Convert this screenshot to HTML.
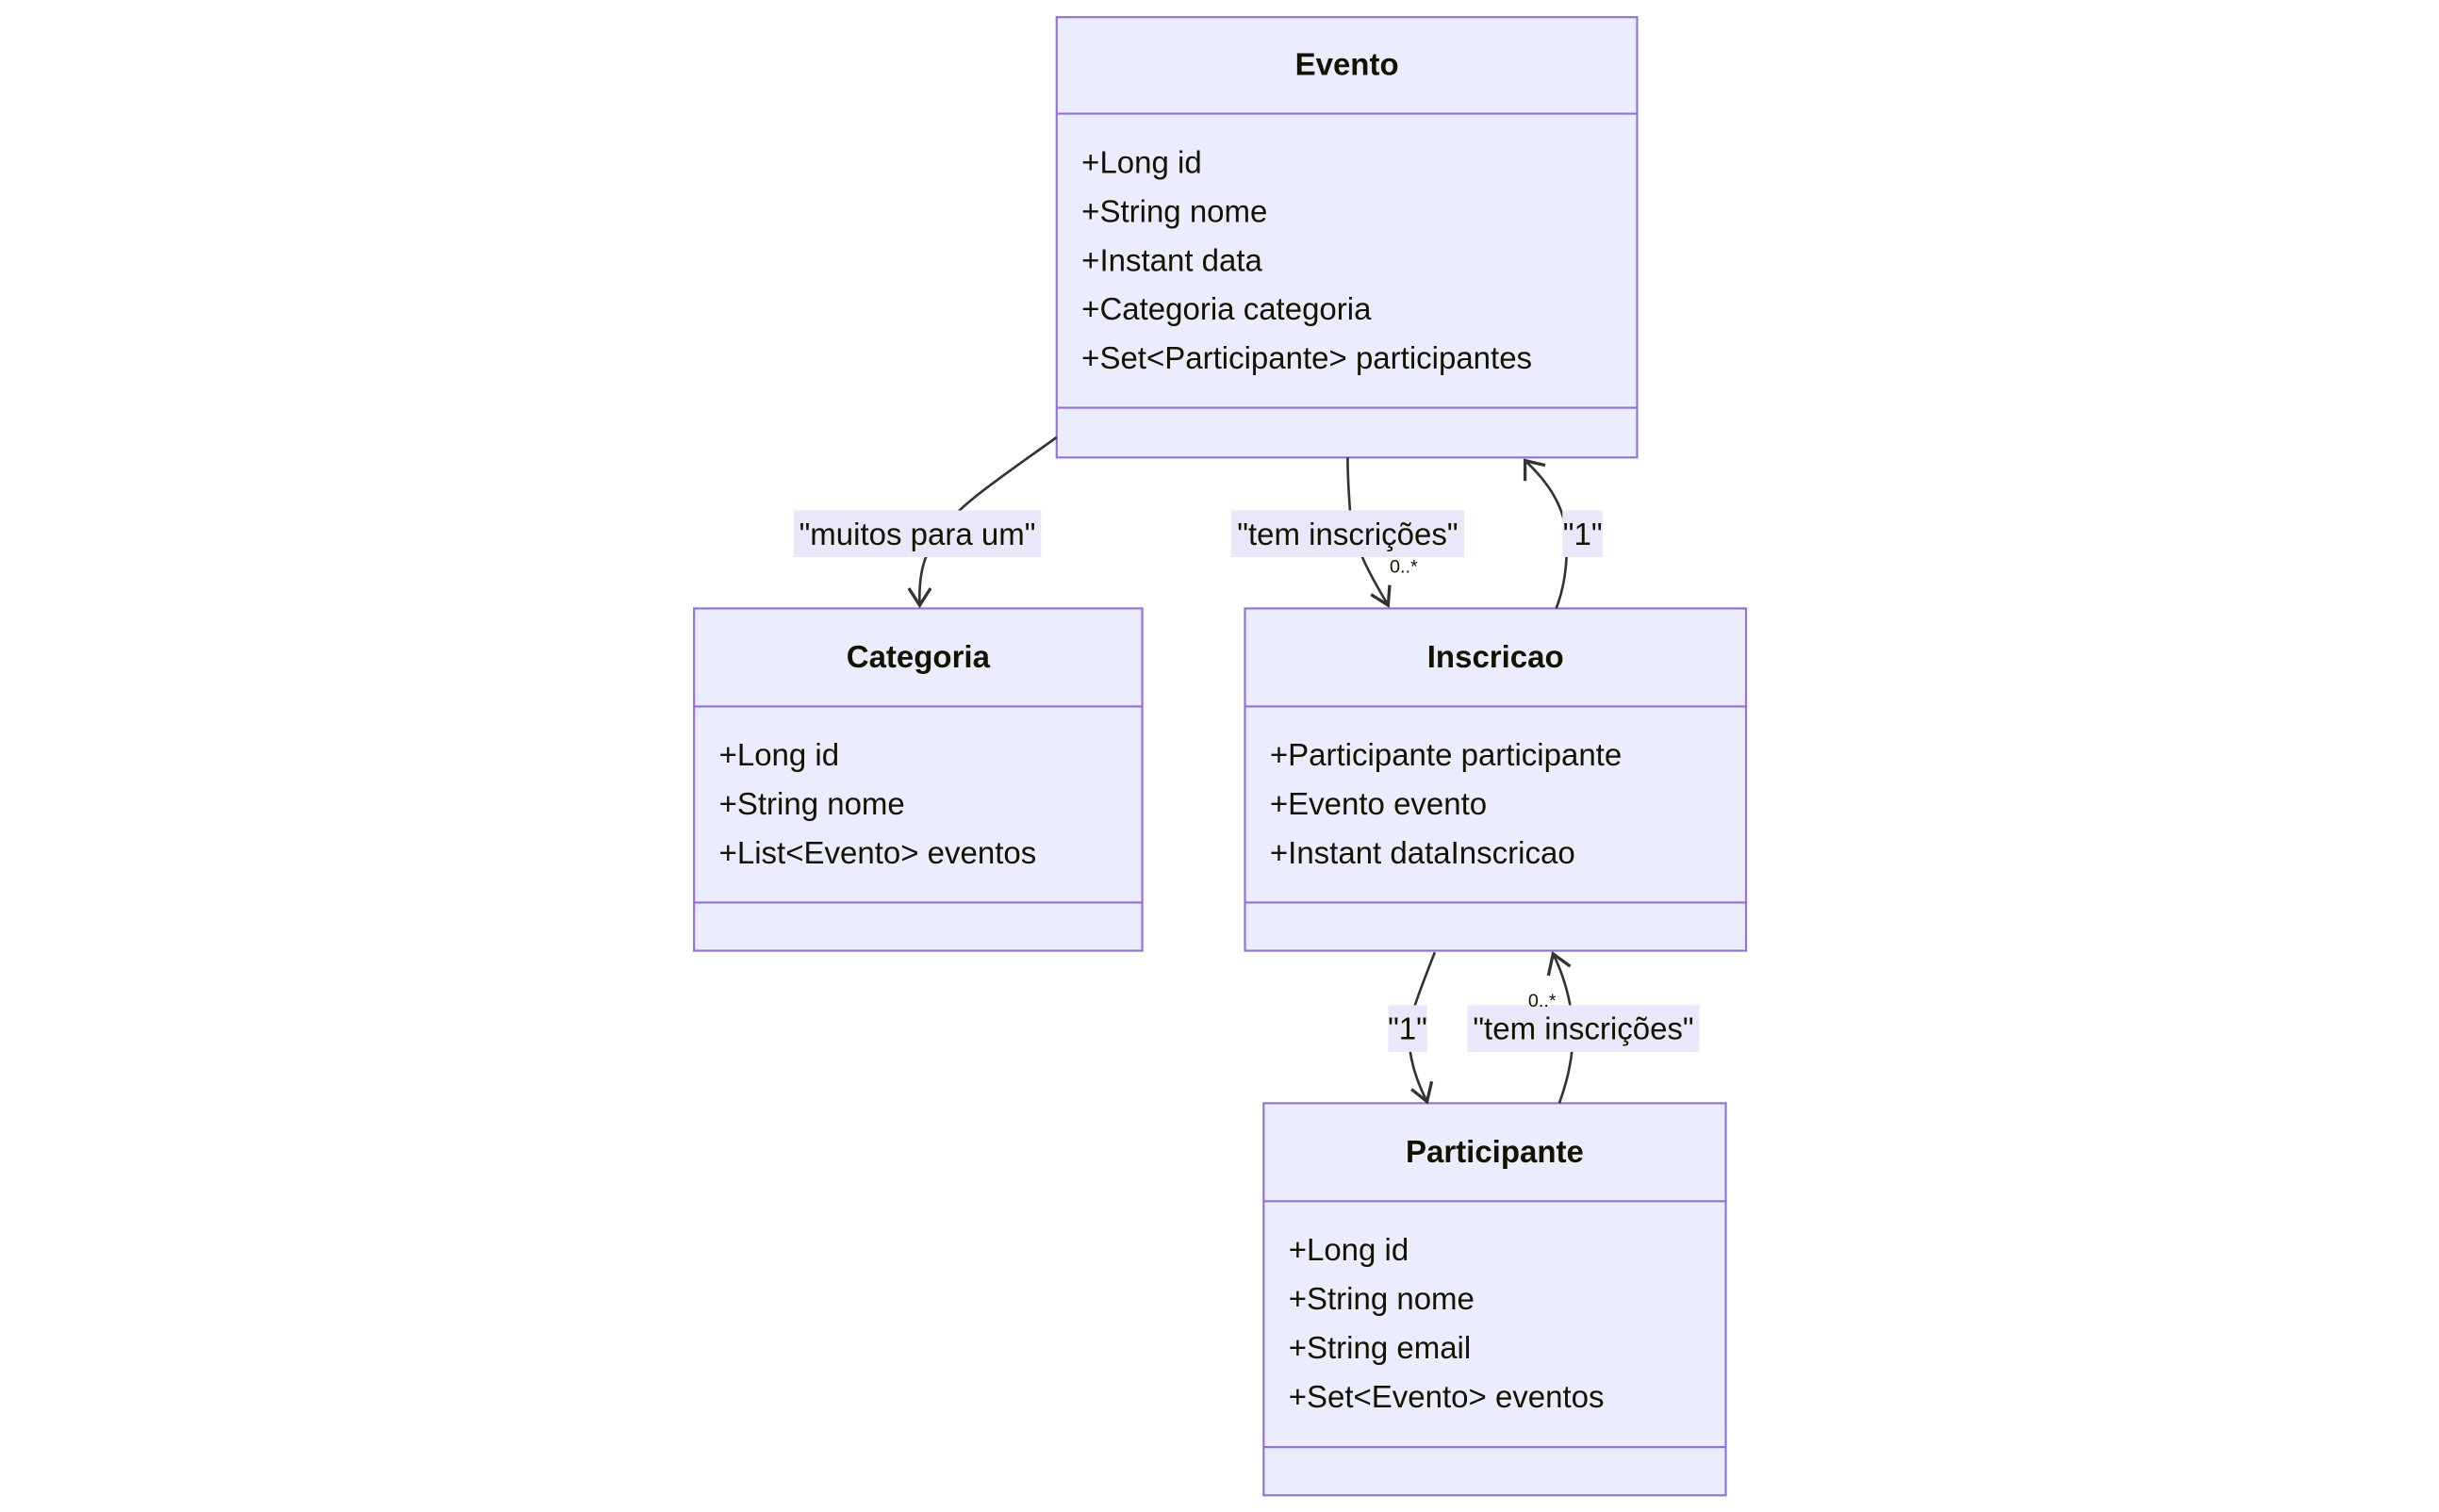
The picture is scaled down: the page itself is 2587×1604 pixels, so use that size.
<!DOCTYPE html>
<html><head><meta charset="utf-8"><style>
html,body{margin:0;padding:0;background:#fff;}
svg{display:block;}
text{font-family:"Liberation Sans","DejaVu Sans",sans-serif;fill:#131300;}
.t{font-weight:bold;font-size:20px;}
.m{font-size:20px;}
.l{font-size:20px;}
.box{fill:#ECECFF;stroke:#9370DB;stroke-width:1.3;}
.dv{stroke:#9370DB;stroke-width:1.3;}
.e{fill:none;stroke:#333;stroke-width:1.6;}
.ah{fill:none;stroke:#333;stroke-width:2;}
.lb{fill:#E8E8FA;}
.ms{font-size:12px;}
</style></head><body>
<svg width="2587" height="1604" viewBox="0 0 1567.3 971.7" xmlns="http://www.w3.org/2000/svg">
<rect class="box" x="679" y="11" width="373" height="283"/>
<line class="dv" x1="679" y1="73" x2="1052" y2="73"/>
<line class="dv" x1="679" y1="262" x2="1052" y2="262"/>
<text class="t" x="865.5" y="48" text-anchor="middle">Evento</text>
<text class="m" x="695" y="111">+Long id</text>
<text class="m" x="695" y="142.5">+String nome</text>
<text class="m" x="695" y="174">+Instant data</text>
<text class="m" x="695" y="205.5">+Categoria categoria</text>
<text class="m" x="695" y="237">+Set&lt;Participante&gt; participantes</text>

<rect class="box" x="446" y="391" width="288" height="220"/>
<line class="dv" x1="446" y1="454" x2="734" y2="454"/>
<line class="dv" x1="446" y1="580" x2="734" y2="580"/>
<text class="t" x="590" y="429" text-anchor="middle">Categoria</text>
<text class="m" x="462" y="492">+Long id</text>
<text class="m" x="462" y="523.5">+String nome</text>
<text class="m" x="462" y="555">+List&lt;Evento&gt; eventos</text>

<rect class="box" x="800" y="391" width="322" height="220"/>
<line class="dv" x1="800" y1="454" x2="1122" y2="454"/>
<line class="dv" x1="800" y1="580" x2="1122" y2="580"/>
<text class="t" x="961" y="429" text-anchor="middle">Inscricao</text>
<text class="m" x="816" y="492">+Participante participante</text>
<text class="m" x="816" y="523.5">+Evento evento</text>
<text class="m" x="816" y="555">+Instant dataInscricao</text>

<rect class="box" x="812" y="709" width="297" height="252"/>
<line class="dv" x1="812" y1="772" x2="1109" y2="772"/>
<line class="dv" x1="812" y1="930" x2="1109" y2="930"/>
<text class="t" x="960.5" y="747" text-anchor="middle">Participante</text>
<text class="m" x="828" y="810">+Long id</text>
<text class="m" x="828" y="841.5">+String nome</text>
<text class="m" x="828" y="873">+String email</text>
<text class="m" x="828" y="904.5">+Set&lt;Evento&gt; eventos</text>

<path class="e" d="M679,281 C650,302 620,322 610,335 C595,352 590,365 591,389"/>
<path class="ah" d="M584,378 L591,389 L598,378"/>

<path class="e" d="M866,294 C866,310 867,320 868,335 C872,355 882,372 892,389"/>
<path class="ah" d="M881,382 L892,389 L893,376"/>

<path class="e" d="M1000,391 C1005,378 1007,365 1007,345 C1005,325 995,310 980,296"/>
<path class="ah" d="M980,309 L980,296 L993,299"/>

<path class="e" d="M922,612 C915,630 909,645 905,660 C905,680 910,694 917,708"/>
<path class="ah" d="M907,700 L917,708 L920,695"/>

<path class="e" d="M1002,709 C1007,695 1011,680 1011,660 C1009,640 1004,625 998,613"/>
<path class="ah" d="M995,627 L998,613 L1009,621"/>

<rect class="lb" x="510" y="328" width="159" height="30"/>
<text class="l" x="589.5" y="350" text-anchor="middle">"muitos para um"</text>
<rect class="lb" x="791" y="328" width="150" height="30"/>
<text class="l" x="866" y="350" text-anchor="middle">"tem inscrições"</text>
<rect class="lb" x="1004" y="328" width="26" height="30"/>
<text class="l" x="1017" y="350" text-anchor="middle">"1"</text>
<rect class="lb" x="892" y="646" width="25" height="30"/>
<text class="l" x="904.5" y="668" text-anchor="middle">"1"</text>
<rect class="lb" x="943" y="646" width="149" height="30"/>
<text class="l" x="1017.5" y="668" text-anchor="middle">"tem inscrições"</text>

<text class="ms" x="893" y="368">0..*</text>
<text class="ms" x="982" y="647">0..*</text>
</svg>
</body></html>
